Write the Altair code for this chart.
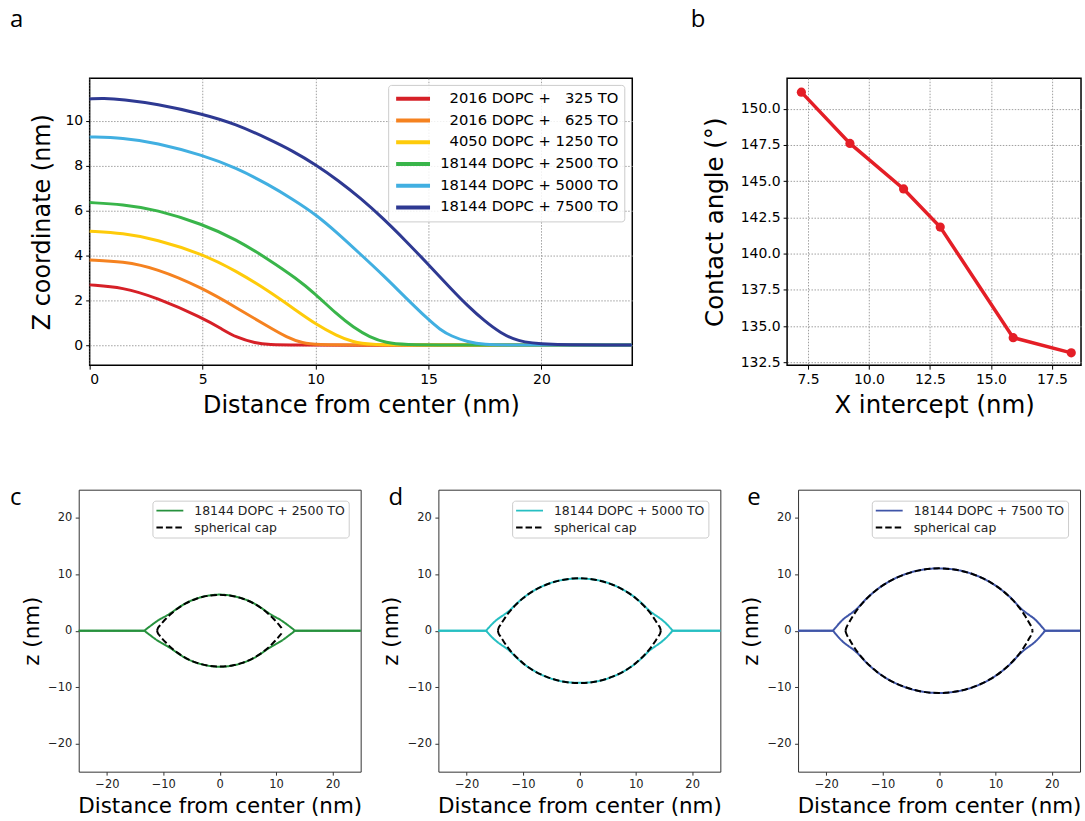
import altair as alt
import pandas as pd

FONT = "DejaVu Sans"
LETTER_FONT = "Open Sans"

# ---------------- panel a : membrane height profiles ----------------
a_labels = [
    "2016 DOPC + \u2007325 TO",
    "2016 DOPC + \u2007625 TO",
    "4050 DOPC + 1250 TO",
    "18144 DOPC + 2500 TO",
    "18144 DOPC + 5000 TO",
    "18144 DOPC + 7500 TO",
]
a_colors = ["#d62027", "#f58220", "#fecb0a", "#39b54a", "#41afe1", "#2e3992"]

red_x = [0, 1.47, 2.94, 5.0, 5.88, 6.47, 7.35, 7.94, 9.0, 12.0, 16.0, 20.0, 24.0]
red_z = [2.70, 2.59, 2.14, 1.23, 0.72, 0.37, 0.10, 0.04, 0.02, 0.02, 0.02, 0.03, 0.03]
orange_x = [0, 1.47, 2.94, 5.0, 6.47, 7.94, 8.72, 9.45, 10.0, 12.0, 16.0, 20.0, 24.0]
orange_z = [3.81, 3.74, 3.44, 2.56, 1.70, 0.82, 0.37, 0.10, 0.04, 0.03, 0.03, 0.03, 0.03]
yellow_x = [0, 1.47, 2.94, 5.0, 6.47, 7.94, 9.16, 10.0, 10.93, 11.67, 12.4, 14.0, 18.0, 24.0]
yellow_z = [5.09, 5.0, 4.73, 4.07, 3.33, 2.42, 1.55, 0.96, 0.44, 0.15, 0.04, 0.02, 0.03, 0.03]
green_x = [0, 1.47, 2.94, 5.0, 6.47, 7.94, 9.16, 10.0, 10.93, 11.67, 12.4, 13.14, 13.88, 16.0, 20.0, 24.0]
green_z = [6.36, 6.28, 6.05, 5.40, 4.73, 3.82, 2.98, 2.29, 1.40, 0.81, 0.37, 0.12, 0.04, 0.03, 0.03, 0.03]
lblue_x = [0, 1.47, 2.94, 5.0, 6.47, 7.94, 9.0, 10.0, 11.0, 12.0, 13.0, 14.0, 15.0, 15.5, 16.0, 16.74, 17.47, 18.5, 20.0, 24.0]
lblue_z = [9.28, 9.24, 9.02, 8.47, 7.91, 7.15, 6.50, 5.84, 4.98, 4.05, 3.12, 2.12, 1.15, 0.72, 0.42, 0.16, 0.04, 0.03, 0.03, 0.03]
dblue_x = [0, 0.59, 1.47, 2.94, 5.0, 6.47, 7.94, 9.0, 10.0, 11.0, 12.0, 13.0, 14.0, 15.0, 16.0, 16.74, 17.47, 18.2, 18.94, 20.0, 24.0]
dblue_z = [10.97, 11.0, 10.95, 10.75, 10.30, 9.85, 9.18, 8.65, 8.05, 7.35, 6.55, 5.65, 4.65, 3.60, 2.52, 1.76, 1.10, 0.55, 0.20, 0.03, 0.03]

a_xs = [red_x, orange_x, yellow_x, green_x, lblue_x, dblue_x]
a_zs = [red_z, orange_z, yellow_z, green_z, lblue_z, dblue_z]

# ---------------- panel b : contact angle ----------------
b_x = [7.23, 9.22, 11.42, 12.92, 15.91, 18.29]
b_y = [151.14, 147.6, 144.46, 141.83, 134.2, 133.15]
b_color = "#e41e26"

# ---------------- panels c-e : profiles vs spherical cap (right half, upper side) ----------------
cap_label = "spherical cap"

c_label = "18144 DOPC + 2500 TO"
c_color = "#26913d"
mem_c_x = [0, 2, 4, 6, 7.5, 8.5, 9.3, 10.0, 10.8, 11.6, 12.4, 13.0, 13.4, 15, 25]
mem_c_z = [6.4, 6.22, 5.72, 4.88, 3.95, 3.25, 2.75, 2.35, 1.9, 1.35, 0.75, 0.3, 0.0, 0.0, 0.0]
cap_c_x = [0, 2, 4, 6, 7.5, 8.5, 9.5, 10.2, 10.7, 11.0, 11.1]
cap_c_z = [6.35, 6.2, 5.7, 4.85, 3.9, 3.1, 2.15, 1.4, 0.8, 0.35, 0.0]

d_label = "18144 DOPC + 5000 TO"
d_color = "#26bfc2"
mem_d_x = [0, 3, 6, 8, 10, 11.5, 12.4, 13.2, 14.0, 14.8, 15.6, 16.2, 16.6, 18, 25]
mem_d_z = [9.25, 9.0, 8.12, 7.14, 5.78, 4.45, 3.55, 2.95, 2.4, 1.8, 1.05, 0.4, 0.0, 0.0, 0.0]
cap_d_x = [0, 3, 6, 8, 10, 11.5, 12.6, 13.4, 14.0, 14.35, 14.45]
cap_d_z = [9.3, 9.0, 8.1, 7.15, 5.75, 4.35, 3.1, 1.95, 1.0, 0.4, 0.0]

e_label = "18144 DOPC + 7500 TO"
e_color = "#3f55a8"
mem_e_x = [0, 3, 6, 9, 11, 13, 14.3, 15.2, 16.1, 16.9, 17.7, 18.4, 18.9, 20, 25]
mem_e_z = [11.05, 10.8, 10.02, 8.64, 7.3, 5.55, 4.15, 3.35, 2.7, 2.1, 1.3, 0.5, 0.0, 0.0, 0.0]
cap_e_x = [0, 3, 6, 9, 11, 13, 14.3, 15.3, 16.0, 16.45, 16.6]
cap_e_z = [11.05, 10.8, 10.0, 8.65, 7.3, 5.5, 4.0, 2.55, 1.35, 0.5, 0.0]

panel_letters = ["a", "b", "c", "d", "e"]

# ---------------- shared styles ----------------
GRID = dict(grid=True, gridDash=[1.5, 1.5], gridColor="#a0a0a0", gridWidth=1)
FRAME_TOP = alt.ViewBackground(stroke="black", strokeWidth=1.5, fill="white")
FRAME_BOT = alt.ViewBackground(stroke="#333333", strokeWidth=1, fill="white")


def letter(ch, dx, dy):
    return alt.Chart(pd.DataFrame({"t": [ch]})).mark_text(
        font=LETTER_FONT, fontSize=24, align="left", baseline="top", color="black"
    ).encode(x=alt.value(dx), y=alt.value(dy), text="t:N")


def spacer(w):
    return alt.Chart(pd.DataFrame({"s": [0]})).mark_point(opacity=0, size=1).encode(
        x=alt.value(0), y=alt.value(0)
    ).properties(width=w, height=1, view=alt.ViewBackground(strokeWidth=0, fill="transparent"))


# ---------------- build panel a ----------------
rows = []
for lab, xs, zs in zip(a_labels, a_xs, a_zs):
    for i, (x, z) in enumerate(zip(xs, zs)):
        rows.append({"series": lab, "x": x, "z": z, "i": i})
df_a = pd.DataFrame(rows)

leg_a = alt.Legend(
    orient="none", legendX=299.6, legendY=6.7, title=None,
    symbolType="stroke", symbolStrokeWidth=4, symbolSize=1156,
    clipHeight=16, rowPadding=5.8, padding=6,
    labelFontSize=14.8, labelFont=FONT, labelColor="black",
    labelAlign="right", labelOffset=187, labelLimit=400,
    strokeColor="#cccccc", fillColor="rgba(255,255,255,0.85)", cornerRadius=3,
)

lines_a = alt.Chart(df_a).mark_line(strokeWidth=3, interpolate="basis").encode(
    x=alt.X("x:Q", scale=alt.Scale(domain=[0, 24.02], nice=False, zero=False),
            axis=alt.Axis(values=[0, 5, 10, 15, 20], title="Distance from center (nm)",
                          titleFontSize=24, labelFontSize=14, tickSize=4, labelPadding=3,
                          titlePadding=8, **GRID)),
    y=alt.Y("z:Q", scale=alt.Scale(domain=[-0.87, 11.89], nice=False, zero=False),
            axis=alt.Axis(values=[0, 2, 4, 6, 8, 10], title="Z coordinate (nm)",
                          titleFontSize=24, labelFontSize=14, tickSize=4, labelPadding=3,
                          titlePadding=11, **GRID)),
    color=alt.Color("series:N", scale=alt.Scale(domain=a_labels, range=a_colors), legend=leg_a),
    order="i:Q",
)
panel_a = alt.layer(lines_a, letter(panel_letters[0], -80, -70)).properties(
    width=544.6, height=288, view=FRAME_TOP)

# ---------------- build panel b ----------------
df_b = pd.DataFrame({"x": b_x, "y": b_y})
base_b = alt.Chart(df_b).encode(
    x=alt.X("x:Q", scale=alt.Scale(domain=[6.645, 18.69], nice=False, zero=False),
            axis=alt.Axis(values=[7.5, 10, 12.5, 15, 17.5], format=".1f", title="X intercept (nm)",
                          titleFontSize=24.5, labelFontSize=14, tickSize=4, labelPadding=3,
                          titlePadding=8, **GRID)),
    y=alt.Y("y:Q", scale=alt.Scale(domain=[132.3, 152.1], nice=False, zero=False),
            axis=alt.Axis(values=[132.5, 135, 137.5, 140, 142.5, 145, 147.5, 150], format=".1f",
                          title="Contact angle (°)", titleFontSize=24.5, labelFontSize=14,
                          tickSize=4, labelPadding=3, titlePadding=13, **GRID)),
)
panel_b = alt.layer(
    base_b.mark_line(color=b_color, strokeWidth=3.5),
    base_b.mark_circle(color=b_color, size=85, opacity=1),
    letter(panel_letters[1], -96.6, -70),
).properties(width=295, height=288, view=FRAME_TOP)


# ---------------- build panels c-e ----------------
def lens_panel(mem_label, color, mx, mz, cx, cz, ch, ldx):
    rows = []
    for series, xs, zs in [(mem_label, mx, mz), (cap_label, cx, cz)]:
        full_x = [-v for v in reversed(xs)] + list(xs[1:])
        full_z = list(reversed(zs)) + list(zs[1:])
        for half, sgn in [("upper", 1), ("lower", -1)]:
            for x, z in zip(full_x, full_z):
                rows.append({"series": series, "half": half, "x": x, "z": sgn * z})
    df = pd.DataFrame(rows)
    dom = [mem_label, cap_label]
    leg = alt.Legend(
        orient="none", legendX=74, legendY=11, title=None,
        symbolType="stroke", symbolStrokeWidth=2, symbolSize=729,
        clipHeight=14, rowPadding=3, padding=3,
        labelFontSize=12.5, labelFont=FONT, labelColor="#222222", labelOffset=10, labelLimit=400,
        strokeColor="#cccccc", fillColor="rgba(255,255,255,0.85)", cornerRadius=3,
    )
    ax = dict(values=[-20, -10, 0, 10, 20], labelFontSize=11.5, tickSize=3.5, labelPadding=3.5,
              tickColor="#333333", labelColor="#222222", grid=False)
    lines = alt.Chart(df).mark_line(strokeWidth=2, interpolate="monotone").encode(
        x=alt.X("x:Q", scale=alt.Scale(domain=[-25, 25], nice=False, zero=False),
                axis=alt.Axis(title="Distance from center (nm)", titleFontSize=21.5,
                              titlePadding=5.5, **ax)),
        y=alt.Y("z:Q", scale=alt.Scale(domain=[-25, 25], nice=False, zero=False),
                axis=alt.Axis(title="z (nm)", titleFontSize=21.5, titlePadding=4.5, **ax)),
        color=alt.Color("series:N", scale=alt.Scale(domain=dom, range=[color, "black"]), legend=leg),
        strokeDash=alt.StrokeDash("series:N", scale=alt.Scale(domain=dom, range=[[1, 0], [6.5, 3]]),
                                  legend=leg),
        detail="half:N",
        order="x:Q",
    )
    return alt.layer(lines, letter(ch, ldx, -3.5)).properties(width=283, height=283, view=FRAME_BOT)


panel_c = lens_panel(c_label, c_color, mem_c_x, mem_c_z, cap_c_x, cap_c_z, panel_letters[2], -69)
panel_d = lens_panel(d_label, d_color, mem_d_x, mem_d_z, cap_d_x, cap_d_z, panel_letters[3], -50)
panel_e = lens_panel(e_label, e_color, mem_e_x, mem_e_z, cap_e_x, cap_e_z, panel_letters[4], -51)

IND = dict(color="independent", strokeDash="independent")

# spacers offset the two rows so that panel a starts 11 px right of panel c
top_row = alt.hconcat(spacer(1), panel_a, panel_b, spacing=155, bounds="flush").resolve_scale(
    **IND).resolve_legend(**IND)
bottom_row = alt.hconcat(spacer(66.5), panel_c, panel_d, panel_e, spacing=78,
                         bounds="flush").resolve_scale(**IND).resolve_legend(**IND)

chart = alt.vconcat(top_row, bottom_row, spacing=67).resolve_scale(**IND).resolve_legend(
    **IND).properties(
    padding={"left": -67, "top": 6, "right": 0, "bottom": 0}
).configure_axis(
    labelFont=FONT, titleFont=FONT, titleFontWeight="normal", labelColor="black",
    titleColor="black", tickColor="black", domain=False,
).configure_legend(labelFont=FONT).configure_view(stroke="black")

chart.save("out.html", embed_options={"renderer": "svg", "actions": False})
